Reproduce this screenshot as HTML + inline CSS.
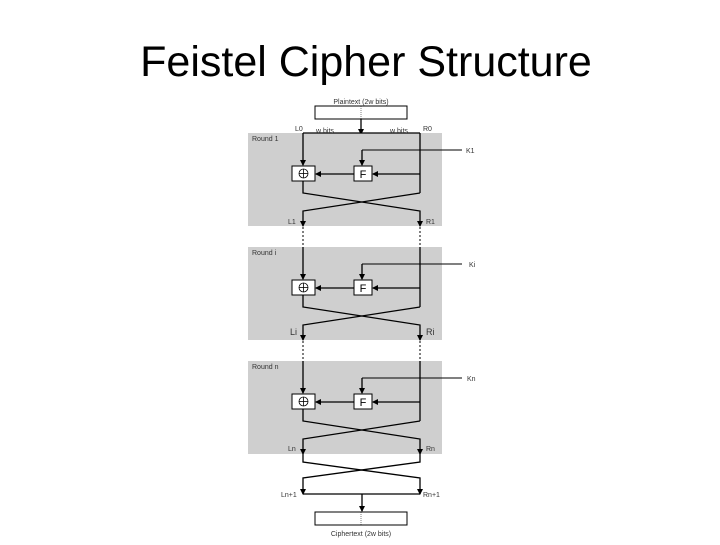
<!DOCTYPE html>
<html><head><style>
body{margin:0;background:#fff;}
svg text{font-family:"Liberation Sans",sans-serif;}
</style></head><body>
<svg width="720" height="540" xmlns="http://www.w3.org/2000/svg">
<defs>
<marker id="a" markerWidth="6" markerHeight="6" refX="5" refY="3" orient="auto" markerUnits="userSpaceOnUse"><path d="M0,0 L6,3 L0,6z" fill="#000"/></marker>
<g id="round">
<rect x="248" y="133" width="194" height="93" fill="#cfcfcf"/>
<line x1="303" y1="133" x2="303" y2="165" stroke="#000" stroke-width="1.3" marker-end="url(#a)"/>
<line x1="420" y1="133" x2="420" y2="193" stroke="#000" stroke-width="1.3"/>
<line x1="462" y1="150" x2="362" y2="150" stroke="#000" stroke-width="1"/>
<line x1="362" y1="150" x2="362" y2="165" stroke="#000" stroke-width="1.3" marker-end="url(#a)"/>
<line x1="420" y1="174" x2="373" y2="174" stroke="#000" stroke-width="1.3" marker-end="url(#a)"/>
<line x1="354" y1="174" x2="316" y2="174" stroke="#000" stroke-width="1.3" marker-end="url(#a)"/>
<rect x="292" y="166" width="23" height="15" fill="#fff" stroke="#000" stroke-width="1"/>
<circle cx="303.5" cy="173.5" r="4.5" fill="none" stroke="#000" stroke-width="0.8"/>
<line x1="299" y1="173.5" x2="308" y2="173.5" stroke="#000" stroke-width="0.8"/>
<line x1="303.5" y1="169" x2="303.5" y2="178" stroke="#000" stroke-width="0.8"/>
<rect x="354" y="166" width="18" height="15" fill="#fff" stroke="#000" stroke-width="1"/>
<text x="363" y="178" font-size="11" text-anchor="middle">F</text>
<polyline points="303,181 303,193 420,211 420,226" fill="none" stroke="#000" stroke-width="1.3" marker-end="url(#a)"/>
<polyline points="420,193 303,211 303,226" fill="none" stroke="#000" stroke-width="1.3" marker-end="url(#a)"/>
</g>
</defs>
<text x="366" y="76" font-size="43" text-anchor="middle">Feistel Cipher Structure</text>
<text x="361" y="104" font-size="7" text-anchor="middle" fill="#333">Plaintext (2w bits)</text>
<rect x="315" y="106" width="92" height="13" fill="#fff" stroke="#000"/>
<line x1="361" y1="106" x2="361" y2="119" stroke="#000" stroke-width="0.5" stroke-dasharray="1,1"/>
<line x1="361" y1="119" x2="361" y2="134" stroke="#000" stroke-width="1.3" marker-end="url(#a)"/>
<use href="#round"/>
<line x1="303" y1="133" x2="420" y2="133" stroke="#000" stroke-width="1.3"/>
<use href="#round" transform="translate(0,114)"/>
<use href="#round" transform="translate(0,228)"/>
<g font-size="7" fill="#333">
<text x="252" y="141">Round 1</text>
<text x="252" y="255">Round i</text>
<text x="252" y="369">Round n</text>
<text x="295" y="131">L0</text><text x="316" y="133">w bits</text><text x="390" y="133">w bits</text><text x="423" y="131">R0</text>
<text x="466" y="153">K1</text><text x="469" y="267">Ki</text><text x="467" y="381">Kn</text>
<text x="288" y="224">L1</text><text x="426" y="224">R1</text>
<text x="290" y="335" font-size="9">Li</text><text x="426" y="335" font-size="9">Ri</text>
<text x="288" y="451">Ln</text><text x="426" y="451">Rn</text>
<text x="281" y="497">Ln+1</text><text x="423" y="497">Rn+1</text>
<text x="361" y="536" text-anchor="middle">Ciphertext (2w bits)</text>
</g>
<g stroke="#000" stroke-width="1" stroke-dasharray="2,2">
<line x1="303" y1="227" x2="303" y2="247"/><line x1="420" y1="227" x2="420" y2="247"/>
<line x1="303" y1="341" x2="303" y2="361"/><line x1="420" y1="341" x2="420" y2="361"/>
</g>
<polyline points="303,454 303,462 420,478 420,494" fill="none" stroke="#000" stroke-width="1.3" marker-end="url(#a)"/>
<polyline points="420,454 420,462 303,478 303,494" fill="none" stroke="#000" stroke-width="1.3" marker-end="url(#a)"/>
<line x1="303" y1="494" x2="420" y2="494" stroke="#000" stroke-width="1.3"/>
<line x1="362" y1="494" x2="362" y2="511" stroke="#000" stroke-width="1.3" marker-end="url(#a)"/>
<rect x="315" y="512" width="92" height="13" fill="#fff" stroke="#000"/>
<line x1="361" y1="512" x2="361" y2="525" stroke="#000" stroke-width="0.5" stroke-dasharray="1,1"/>
</svg>
</body></html>
